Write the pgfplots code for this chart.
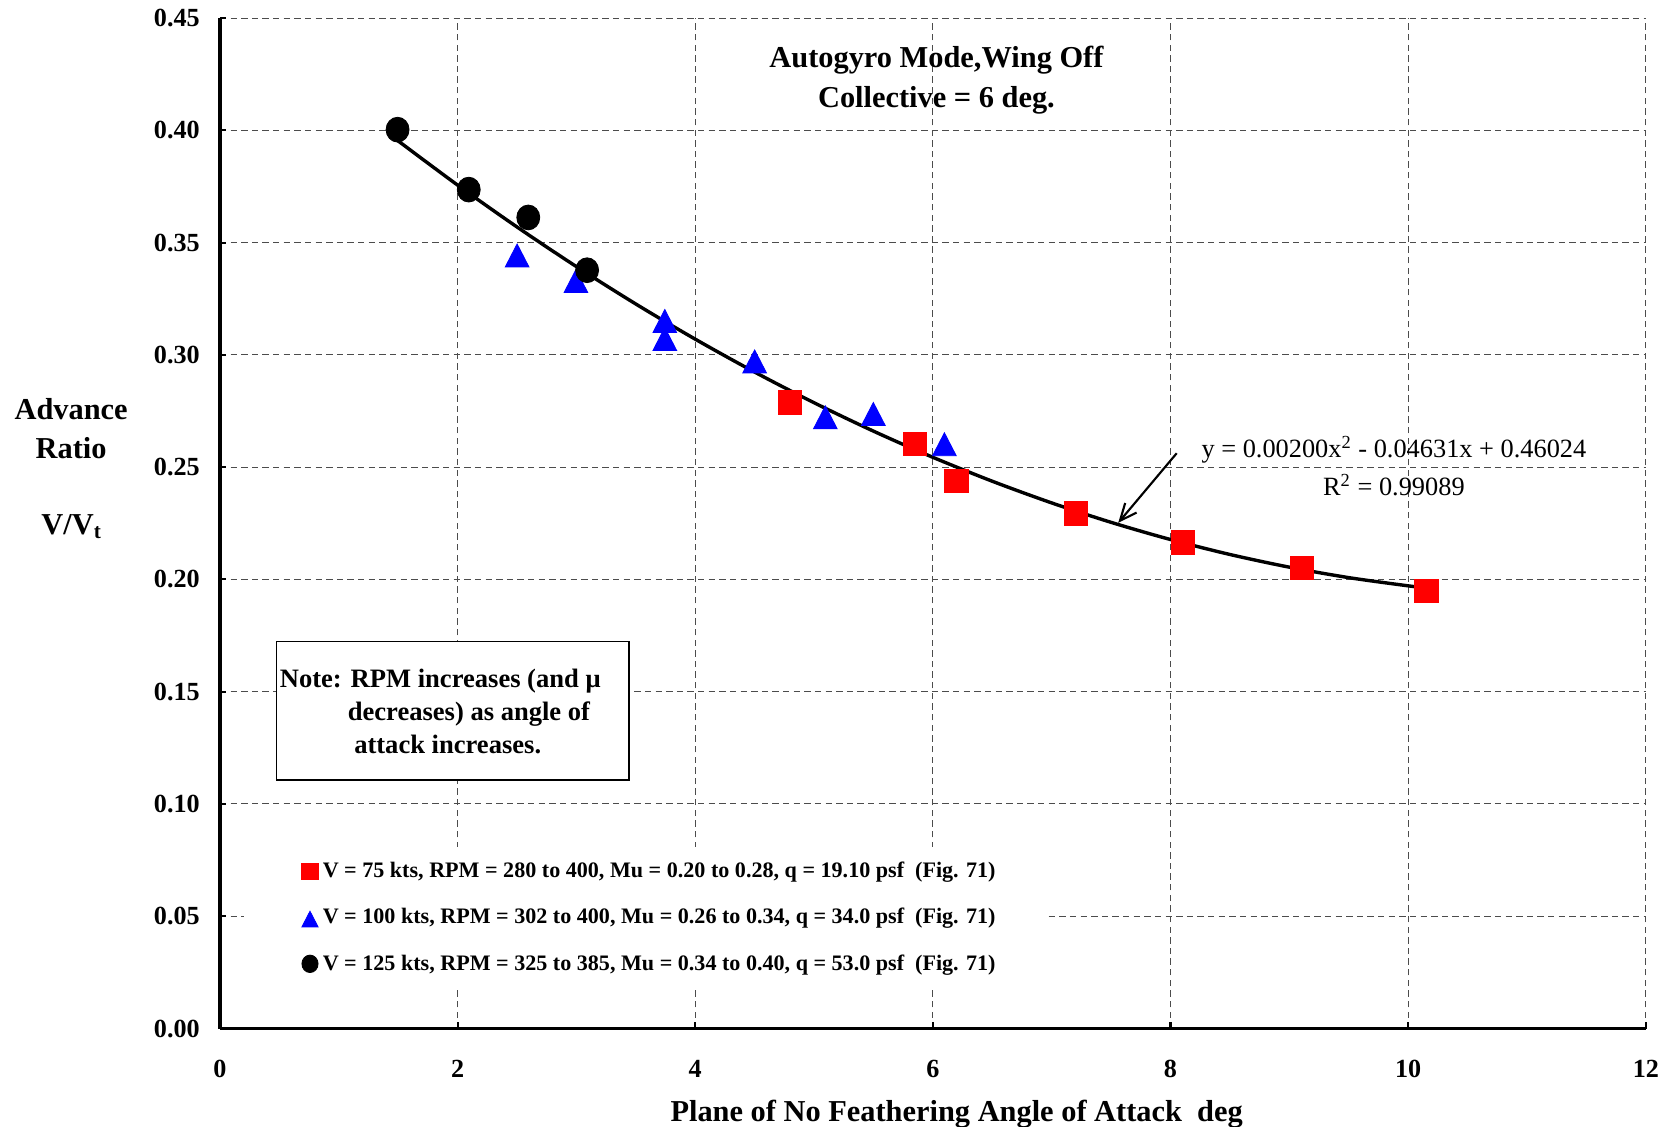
\documentclass[border=0pt]{standalone}
\usepackage{pgfplots}
\pgfplotsset{compat=1.18}
\usepackage{fontspec}
\setmainfont{Liberation Serif}
\usetikzlibrary{arrows.meta}
\pgfplotsset{
  mylegimg/.style={legend image code/.code={%
    \path[draw=none, fill=none] (-23pt,0pt) -- (8pt,0pt);
    \draw[mark repeat=2,mark phase=2,##1,mark size=#1] plot coordinates {(0pt,0pt) (4pt,0pt) (8pt,0pt)};}}
}
\begin{document}
\begin{tikzpicture}
\begin{axis}[
  scale only axis, width=671pt, height=475.5pt,
  xmin=0, xmax=12, ymin=0, ymax=0.45,
  xtick={0,2,4,6,8,10,12},
  ytick={0,0.05,0.10,0.15,0.20,0.25,0.30,0.35,0.40,0.45},
  axis x line*=bottom, axis y line*=left,
  axis line style={line width=1.5pt},
  grid=major,
  grid style={dash pattern=on 3pt off 2pt, black!70, line width=0.5pt},
  tick style={black, line width=1pt}, major tick length=3pt, tick align=inside,
  /pgf/number format/assume math mode=true,
  ticklabel style={font=\bfseries\fontsize{12.3}{14}\selectfont},
  yticklabel style={/pgf/number format/fixed, /pgf/number format/fixed zerofill, /pgf/number format/precision=2, xshift=-6pt},
  xticklabel style={yshift=-11.5pt},
  clip=false,
  legend style={at={(axis cs:0.2,0.0811)}, anchor=north west, draw=none, fill=white,
    font=\bfseries\fontsize{10.4}{12}\selectfont, row sep=9pt, inner xsep=4pt, inner ysep=5pt},
  legend cell align=left,
]
% trendline y = 0.00200x^2 - 0.04631x + 0.46024
\addplot[black, line width=1.6pt, smooth, forget plot] coordinates {
(1.5,0.395275) (2,0.37562) (2.5,0.356965) (3,0.33931) (3.5,0.322655) (4,0.307)
(4.5,0.292345) (5,0.27869) (5.5,0.266035) (6,0.25438) (6.5,0.243725) (7,0.23407)
(7.5,0.225415) (8,0.21776) (8.5,0.211105) (9,0.20545) (9.5,0.200795) (10,0.19714)
(10.15,0.196238)};
\addplot[only marks, mark=square*, color=red, mark size=5.5pt, mylegimg=3.8pt] coordinates {
(4.795,0.2788) (5.847,0.2604) (6.197,0.2440) (7.206,0.2294) (8.104,0.2165) (9.105,0.2052) (10.155,0.1950)};
\addlegendentry{V = 75 kts, RPM = 280 to 400, Mu = 0.20 to 0.28, q = 19.10 psf\ \ (Fig. 71)\hspace*{18pt}}
\addplot[only marks, mark=triangle*, color=blue, mark size=6.4pt, mark options={yscale=1.12, yshift=-1.8pt}, mylegimg=4.4pt] coordinates {
(2.501,0.3445) (2.996,0.3331) (3.744,0.3153) (3.744,0.3073) (4.50,0.2973) (5.095,0.2724) (5.499,0.2739) (6.097,0.2604)};
\addlegendentry{V = 100 kts, RPM = 302 to 400, Mu = 0.26 to 0.34, q = 34.0 psf\ \ (Fig. 71)}
\addplot[only marks, mark=*, color=black, mark size=5.4pt, mark options={yscale=1.08}, mylegimg=3.8pt] coordinates {
(1.495,0.4003) (2.094,0.3736) (2.595,0.3612) (3.09,0.3377)};
\addlegendentry{V = 125 kts, RPM = 325 to 385, Mu = 0.34 to 0.40, q = 53.0 psf\ \ (Fig. 71)}

% arrow to trendline
\draw[-{Straight Barb[length=8pt,width=7pt,line width=1pt]}, line width=1pt] (axis cs:8.052,0.2562) -- (axis cs:7.56,0.2252);
% equation
\node[anchor=base, font=\fontsize{12.4}{14}\selectfont] at (axis cs:9.88,0.2541) {y = 0.00200x\textsuperscript{2} - 0.04631x + 0.46024};
\node[anchor=base, font=\fontsize{12.4}{14}\selectfont] at (axis cs:9.88,0.2373) {R\textsuperscript{2} = 0.99089};
% title
\node[anchor=base, font=\bfseries\fontsize{14.3}{16}\selectfont] at (axis cs:6.03,0.4282) {Autogyro Mode,Wing Off};
\node[anchor=base, font=\bfseries\fontsize{14.3}{16}\selectfont] at (axis cs:6.03,0.4103) {Collective = 6 deg.};
% note box
\draw[fill=white, line width=0.6pt] (axis cs:0.474,0.1722) rectangle (axis cs:3.443,0.1107);
\node[anchor=base west, inner sep=0pt, font=\bfseries\fontsize{12.5}{14}\selectfont] at (axis cs:0.501,0.1519) {Note: RPM increases (and μ};
\node[anchor=base west, inner sep=0pt, font=\bfseries\fontsize{12.5}{14}\selectfont] at (axis cs:1.073,0.1373) {decreases) as angle of};
\node[anchor=base west, inner sep=0pt, font=\bfseries\fontsize{12.5}{14}\selectfont] at (axis cs:1.127,0.1226) {attack increases.};
% y label
\node[anchor=base, font=\bfseries\fontsize{14.3}{16}\selectfont] at (axis cs:-1.252,0.2712) {Advance};
\node[anchor=base, font=\bfseries\fontsize{14.3}{16}\selectfont] at (axis cs:-1.252,0.2537) {Ratio};
\node[anchor=base, font=\bfseries\fontsize{14.3}{16}\selectfont] at (axis cs:-1.252,0.2201) {V/V\raisebox{-0.3ex}{\fontsize{10}{12}\selectfont t}};
% x label
\node[anchor=base, font=\bfseries\fontsize{14.3}{16}\selectfont] at (axis cs:6.2,-0.0416) {Plane of No Feathering Angle of Attack\ \ deg};
\end{axis}
\pgfresetboundingbox
\path[use as bounding box] ([xshift=-103.5pt,yshift=-46pt]current axis.south west) rectangle ([xshift=9.5pt,yshift=8.5pt]current axis.north east);
\end{tikzpicture}
\end{document}
